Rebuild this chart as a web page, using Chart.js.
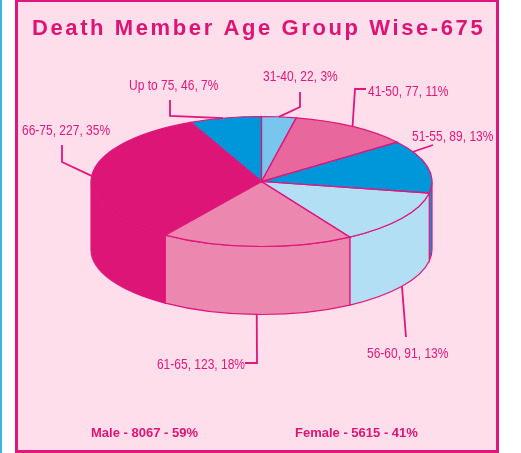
<!DOCTYPE html>
<html>
<head>
<meta charset="utf-8">
<script src="https://cdn.jsdelivr.net/npm/chart.js@4.4.1/dist/chart.umd.min.js"></script>
<style>
  html, body { margin: 0; padding: 0; background: #fff; }
  canvas { display: block; }
</style>
</head>
<body>
<canvas id="ageChart" width="521" height="453"></canvas>
<script>
// data
const chartTitle = "Death Member Age Group Wise-675";
const ageGroups = ["31-40", "41-50", "51-55", "56-60", "61-65", "66-75", "Up to 75"];
const deaths = [22, 77, 89, 91, 123, 227, 46];
const sharePct = [3, 11, 13, 13, 18, 35, 7];
const genders = ["Male", "Female"];
const genderCounts = [8067, 5615];
const genderPct = [59, 41];

const sliceColors = ["#78c6ee", "#e8679c", "#0096da", "#b3dff5", "#ec88af", "#dd1577", "#0096da"];
const MAGENTA = "#df177b";
const PANEL = "#fddeea";
const DEPTH = 68;          // height of the pie wall
const TILT = 65 / 170.5;   // vertical squash of the top face
const NARROW = 0.8;        // labels use a squeezed sans, like the original

// leader lines: where on the slice they start, then the elbow points, then the text
const labelLayout = [
  { frac: 0.5,  rim: "top",    path: [[300, 107], [300, 92]],  tx: 263, ty: 81,  align: "left" },
  { frac: 0.5,  rim: "top",    path: [[355, 89], [366, 89]],   tx: 368, ty: 96,  align: "left" },
  { frac: 0.21, rim: "top",    path: [[433, 145]],             tx: 412, ty: 141, align: "left" },
  { frac: 0.5,  rim: "bottom", path: [[406, 337]],             tx: 367, ty: 358, align: "left" },
  { frac: 0.5,  rim: "bottom", path: [[257, 363], [245, 363]], tx: 245, ty: 369, align: "right" },
  { frac: 0.5,  rim: "top",    path: [[62, 162], [62, 145]],   tx: 22,  ty: 135, align: "left" },
  { frac: 0.47, rim: "top",    path: [[170, 116], [170, 100]], tx: 129, ty: 90,  align: "left" }
];

function arcProps(arc) {
  return arc.getProps(["x", "y", "startAngle", "endAngle", "outerRadius"], true);
}

function drawWalls(chart) {
  const ctx = chart.ctx;
  chart.getDatasetMeta(0).data.forEach((arc, i) => {
    const p = arcProps(arc);
    const a1 = Math.max(p.startAngle, 0);
    const a2 = Math.min(p.endAngle, Math.PI);
    if (a2 <= a1) return;
    const ry = p.outerRadius * TILT;
    ctx.beginPath();
    ctx.ellipse(p.x, p.y, p.outerRadius, ry, 0, a1, a2, false);
    ctx.ellipse(p.x, p.y + DEPTH, p.outerRadius, ry, 0, a2, a1, true);
    ctx.closePath();
    ctx.fillStyle = sliceColors[i];
    ctx.fill();
    ctx.strokeStyle = MAGENTA;
    ctx.lineWidth = 1.2;
    ctx.stroke();
  });
}

function drawTopEdges(chart) {
  const ctx = chart.ctx;
  ctx.save();
  ctx.strokeStyle = MAGENTA;
  ctx.lineWidth = 1.2;
  chart.getDatasetMeta(0).data.forEach(arc => {
    const p = arcProps(arc);
    ctx.beginPath();
    ctx.moveTo(p.x, p.y);
    ctx.ellipse(p.x, p.y, p.outerRadius, p.outerRadius * TILT, 0, p.startAngle, p.endAngle, false);
    ctx.closePath();
    ctx.stroke();
  });
  ctx.restore();
}

function drawLabels(chart) {
  const ctx = chart.ctx;
  const arcs = chart.getDatasetMeta(0).data;
  ctx.save();
  ctx.strokeStyle = MAGENTA;
  ctx.fillStyle = MAGENTA;
  ctx.lineWidth = 1.8;
  ctx.font = "15px 'Liberation Sans', Arial, sans-serif";
  ctx.letterSpacing = "0px";
  labelLayout.forEach((lay, i) => {
    const p = arcProps(arcs[i]);
    const a = p.startAngle + (p.endAngle - p.startAngle) * lay.frac;
    const sx = p.x + p.outerRadius * Math.cos(a);
    const sy = p.y + p.outerRadius * TILT * Math.sin(a) + (lay.rim === "bottom" ? DEPTH : 0);
    ctx.beginPath();
    ctx.moveTo(sx, sy);
    lay.path.forEach(pt => ctx.lineTo(pt[0], pt[1]));
    ctx.stroke();

    ctx.save();
    ctx.translate(lay.tx, lay.ty);
    ctx.scale(NARROW, 1);
    ctx.textAlign = lay.align;
    ctx.textBaseline = "alphabetic";
    ctx.fillText(`${ageGroups[i]}, ${deaths[i]}, ${sharePct[i]}%`, 0, 0);
    ctx.restore();
  });
  ctx.restore();
}

const pie3d = {
  id: "pie3d",
  beforeDraw(chart) {
    const ctx = chart.ctx;
    ctx.save();
    ctx.fillStyle = "#ffffff";
    ctx.fillRect(0, 0, chart.width, chart.height);
    ctx.fillStyle = "#3bb5e8";
    ctx.fillRect(0, 0, 2, chart.height);
    ctx.fillStyle = MAGENTA;
    ctx.fillRect(15, 0, 484, 453);
    ctx.fillStyle = PANEL;
    ctx.fillRect(18, 2, 478, 448);

    ctx.fillStyle = "#dc1476";
    ctx.font = "bold 22px 'Liberation Sans', Arial, sans-serif";
    ctx.letterSpacing = "2.6px";
    ctx.textBaseline = "alphabetic";
    ctx.fillText(chartTitle, 32, 35);

    ctx.font = "bold 13px 'Liberation Sans', Arial, sans-serif";
    ctx.letterSpacing = "0px";
    const gx = [91, 295];
    genders.forEach((g, i) => {
      ctx.fillText(`${g} - ${genderCounts[i]} - ${genderPct[i]}%`, gx[i], 437);
    });
    ctx.restore();
  },
  beforeDatasetsDraw(chart) {
    drawWalls(chart);
    const p = arcProps(chart.getDatasetMeta(0).data[0]);
    const ctx = chart.ctx;
    ctx.save();
    ctx.translate(p.x, p.y);
    ctx.scale(1, TILT);
    ctx.translate(-p.x, -p.y);
  },
  afterDatasetsDraw(chart) {
    chart.ctx.restore();
    drawTopEdges(chart);
    drawLabels(chart);
  }
};

new Chart(document.getElementById("ageChart"), {
  type: "pie",
  data: {
    labels: ageGroups,
    datasets: [{
      data: deaths,
      backgroundColor: sliceColors,
      borderWidth: 0,
      clip: false
    }]
  },
  options: {
    responsive: false,
    animation: false,
    events: [],
    layout: { padding: { left: 91, right: 89, top: 11, bottom: 101 } },
    plugins: {
      legend: { display: false },
      title: { display: false },
      tooltip: { enabled: false }
    }
  },
  plugins: [pie3d]
});
</script>
</body>
</html>
